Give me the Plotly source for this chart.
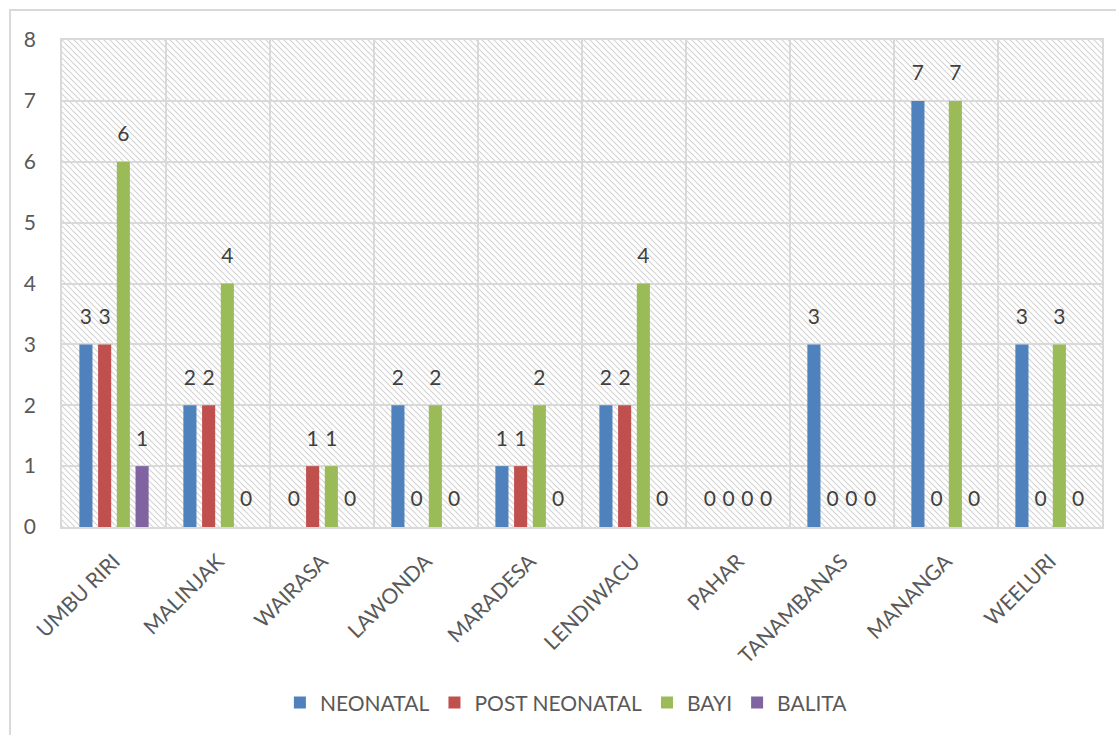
import base64
import plotly.graph_objects as go

# Desa / wilayah
categories = ["UMBU RIRI", "MALINJAK", "WAIRASA", "LAWONDA", "MARADESA",
              "LENDIWACU", "PAHAR", "TANAMBANAS", "MANANGA", "WEELURI"]

# Jumlah kematian per kelompok umur
neonatal = [3, 2, 0, 2, 1, 2, 0, 3, 7, 3]
post_neonatal = [3, 2, 1, 0, 1, 2, 0, 0, 0, 0]
bayi = [6, 4, 1, 2, 2, 4, 0, 0, 7, 3]
balita = [1, 0, 0, 0, 0, 0, 0, 0, 0, 0]

series = [
    ("NEONATAL", neonatal, "#4F81BD"),
    ("POST NEONATAL", post_neonatal, "#C0504D"),
    ("BAYI", bayi, "#9BBB59"),
    ("BALITA", balita, "#8064A2"),
]

FONT = "Lato, 'Open Sans', sans-serif"
GRID = "#d9d9d9"
GAP = 0.28

fig = go.Figure()
for name, vals, color in series:
    fig.add_trace(go.Bar(
        name=name,
        x=categories,
        y=vals,
        marker=dict(color=color, line=dict(width=0)),
        hoverinfo="skip",
    ))

# Value labels, grouped the same way as the bars and lifted above each bar
for name, vals, color in series:
    fig.add_trace(go.Scatter(
        x=categories,
        y=vals,
        mode="markers+text",
        text=[str(v) for v in vals],
        textposition="top center",
        textfont=dict(family=FONT, size=21, color="#404040"),
        marker=dict(size=23, opacity=0, color=color),
        cliponaxis=False,
        showlegend=False,
        hoverinfo="skip",
    ))

# Diagonal hatch fill for the plot area
PW, PH = 1040, 487
svg = (
    f'<svg xmlns="http://www.w3.org/2000/svg" width="{PW}" height="{PH}" '
    f'viewBox="0 0 {PW} {PH}" preserveAspectRatio="none">'
    '<defs><pattern id="h" patternUnits="userSpaceOnUse" width="6" height="6">'
    '<path d="M-1,-1 L7,7 M-7,-1 L1,7 M5,-1 L13,7" stroke="#d3d3d3" stroke-width="1.1"/>'
    '</pattern></defs>'
    f'<rect width="{PW}" height="{PH}" fill="#ffffff"/>'
    f'<rect width="{PW}" height="{PH}" fill="url(#h)"/></svg>'
)
src = "data:image/svg+xml;base64," + base64.b64encode(svg.encode()).decode()

fig.update_layout(
    width=1116,
    height=735,
    margin=dict(l=62, r=14, t=40, b=208),
    paper_bgcolor="white",
    plot_bgcolor="rgba(0,0,0,0)",
    barmode="group",
    bargap=GAP,
    bargroupgap=0.3,
    scattermode="group",
    scattergap=GAP,
    font=dict(family=FONT, size=21, color="#595959"),
    images=[dict(source=src, xref="paper", yref="paper", x=0, y=1,
                 sizex=1, sizey=1, xanchor="left", yanchor="top",
                 sizing="stretch", layer="below")],
    legend=dict(orientation="h", x=0.485, xanchor="center", y=-0.361,
                yanchor="middle", font=dict(family=FONT, size=21, color="#595959"),
                itemwidth=30, traceorder="normal"),
    shapes=[dict(type="rect", xref="paper", yref="paper",
                 x0=-0.05, x1=1.2, y0=-1.0, y1=1.0616,
                 line=dict(color=GRID, width=2), layer="below")],
    xaxis=dict(
        type="category",
        tickson="boundaries",
        ticks="",
        showgrid=True,
        gridcolor=GRID,
        gridwidth=1.5,
        showline=True,
        mirror=True,
        linecolor=GRID,
        linewidth=1.5,
        tickangle=-45,
        ticklabelstandoff=12,
        tickfont=dict(family=FONT, size=21, color="#595959"),
    ),
    yaxis=dict(
        range=[0, 8],
        dtick=1,
        showgrid=True,
        gridcolor=GRID,
        gridwidth=1.5,
        zeroline=False,
        showline=True,
        mirror=True,
        linecolor=GRID,
        linewidth=1.5,
        ticks="",
        ticklabelstandoff=20,
        tickfont=dict(family=FONT, size=21, color="#595959"),
    ),
)

fig.write_html("out.html")
